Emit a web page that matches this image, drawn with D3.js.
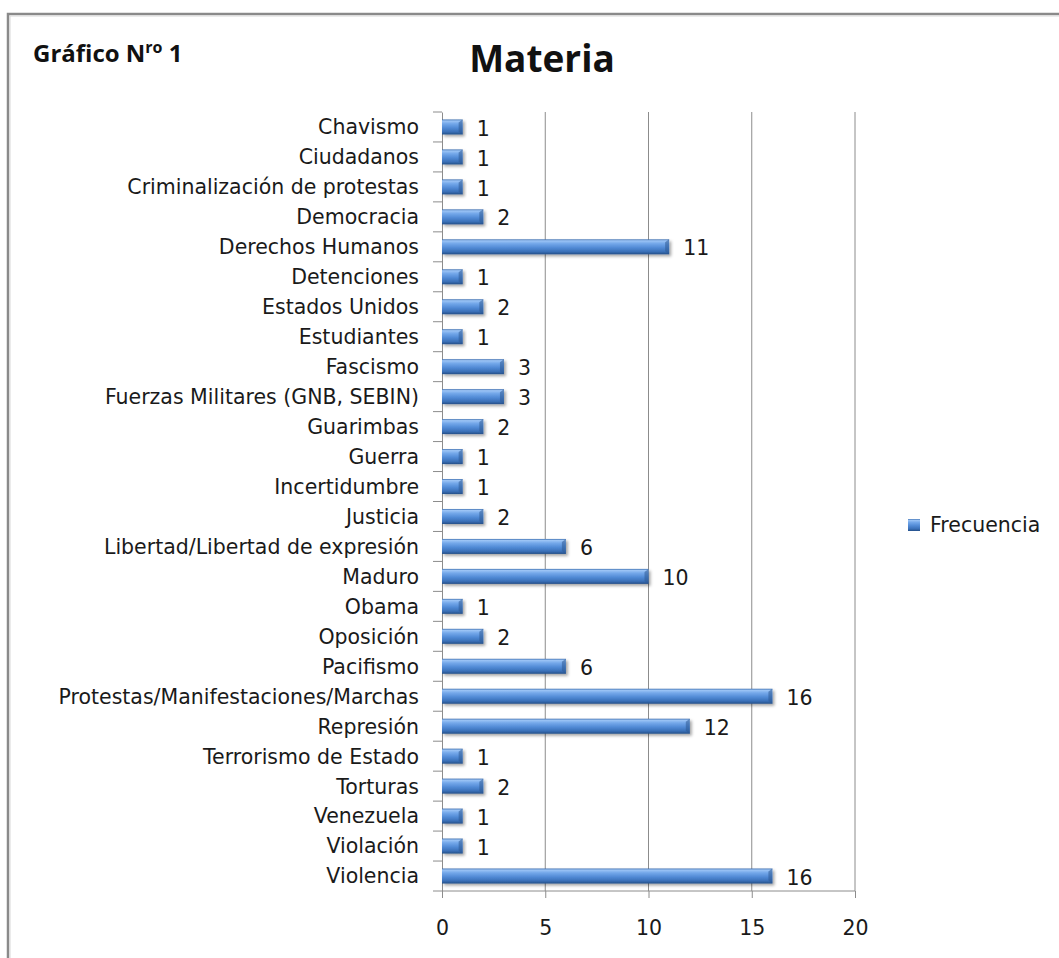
<!DOCTYPE html>
<html><head><meta charset="utf-8">
<script src="https://cdn.jsdelivr.net/npm/d3@7"></script>
<style>body{margin:0;background:#fff}svg{display:block}</style>
</head><body>
<script>
const categories = ["Chavismo","Ciudadanos","Criminalización de protestas","Democracia","Derechos Humanos","Detenciones","Estados Unidos","Estudiantes","Fascismo","Fuerzas Militares (GNB, SEBIN)","Guarimbas","Guerra","Incertidumbre","Justicia","Libertad/Libertad de expresión","Maduro","Obama","Oposición","Pacifismo","Protestas/Manifestaciones/Marchas","Represión","Terrorismo de Estado","Torturas","Venezuela","Violación","Violencia"];
const frecuencia = [1,1,1,2,11,1,2,1,3,3,2,1,1,2,6,10,1,2,6,16,12,1,2,1,1,16];
const xTicks = [0,5,10,15,20];
const seriesName = "Frecuencia";

const W = 1059, H = 958;
const svg = d3.select("body").append("svg").attr("width", W).attr("height", H);
const font = "'DejaVu Sans', Verdana, sans-serif";
const tfont = "'Open Sans', sans-serif";
const fs = 20.5;

// border
svg.append("path").attr("d", `M8,${H} L8,14 L${W},14`).attr("fill","none").attr("stroke","#8a8a8a").attr("stroke-width",2.5);
svg.append("path").attr("d", `M10,${H} L10,16 L${W},16`).attr("fill","none").attr("stroke","#d8d8d8").attr("stroke-width",1);

const defs = svg.append("defs");
const g1 = defs.append("linearGradient").attr("id","barg").attr("x1",0).attr("y1",0).attr("x2",0).attr("y2",1);
[[0,"#3d6fb0"],[0.1,"#9cc4f5"],[0.28,"#74a8ea"],[0.55,"#528bd6"],[0.82,"#3a70b8"],[1,"#244f88"]].forEach(s=>g1.append("stop").attr("offset",s[0]).attr("stop-color",s[1]));
const f = defs.append("filter").attr("id","sh").attr("x","-10%").attr("y","-30%").attr("width","130%").attr("height","180%");
f.append("feDropShadow").attr("dx",2).attr("dy",2).attr("stdDeviation",1.5).attr("flood-color","#000").attr("flood-opacity",0.35);

const x = d3.scaleLinear().domain([0,20]).range([442,855]);
const y = d3.scaleBand().domain(categories).range([112,891]);

// gridlines
svg.append("g").selectAll("line").data(xTicks.slice(1)).join("line")
  .attr("x1",d=>x(d)).attr("x2",d=>x(d)).attr("y1",112).attr("y2",891)
  .attr("stroke","#8c8c8c").attr("stroke-width",1);

// axes
const yAxis = svg.append("g").attr("transform","translate(442,0)")
  .call(d3.axisLeft(y).tickSize(0).tickPadding(23));
yAxis.select(".domain").attr("stroke","#8c8c8c");
yAxis.selectAll("text").attr("font-family",font).attr("font-size",fs).attr("fill","#1a1a1a").attr("dy","0.36em");
// category boundary ticks
svg.append("g").selectAll("line").data(d3.range(categories.length+1)).join("line")
  .attr("x1",433).attr("x2",442)
  .attr("y1",i=>112+i*y.step()).attr("y2",i=>112+i*y.step())
  .attr("stroke","#8c8c8c");

const xAxis = svg.append("g").attr("transform","translate(0,891)")
  .call(d3.axisBottom(x).tickValues(xTicks).tickSize(7).tickPadding(22));
xAxis.select(".domain").attr("stroke","#8c8c8c").attr("d",`M442,0H855`);
xAxis.selectAll("line").attr("stroke","#8c8c8c");
xAxis.selectAll("text").attr("font-family",font).attr("font-size",fs).attr("fill","#1a1a1a");

// bars
const bh = 15;
const bars = svg.append("g");
bars.selectAll("rect").data(frecuencia).join("rect")
  .attr("x",x(0)).attr("y",(d,i)=>y(categories[i])+y.bandwidth()/2-bh/2)
  .attr("width",d=>x(d)-x(0)).attr("height",bh)
  .attr("fill","url(#barg)").attr("filter","url(#sh)");
// bevel end
bars.selectAll("path").data(frecuencia).join("path")
  .attr("d",(d,i)=>{const yy=y(categories[i])+y.bandwidth()/2-bh/2, xe=x(d); return `M${xe-4},${yy+3}L${xe},${yy}L${xe},${yy+bh}L${xe-4},${yy+bh-3}Z`;})
  .attr("fill","#2d5a94").attr("opacity",0.55);

// value labels
svg.append("g").selectAll("text").data(frecuencia).join("text")
  .attr("x",d=>x(d)+14).attr("y",(d,i)=>y(categories[i])+y.bandwidth()/2)
  .attr("dy","0.42em").attr("font-family",font).attr("font-size",fs).attr("fill","#1a1a1a")
  .text(d=>d);

// titles
svg.append("text").attr("x",542).attr("y",72).attr("text-anchor","middle")
  .attr("font-family",tfont).attr("font-weight","bold").attr("font-size",37).attr("fill","#111").text("Materia");
const gt = svg.append("text").attr("x",33).attr("y",62).attr("font-family",tfont).attr("font-weight","bold").attr("font-size",24).attr("fill","#111");
gt.append("tspan").text("Gráfico N");
gt.append("tspan").attr("dy",-9).attr("font-size",16).text("ro");
gt.append("tspan").attr("dy",9).text(" 1");

// legend
svg.append("rect").attr("x",908).attr("y",519).attr("width",12).attr("height",12).attr("fill","url(#barg)");
svg.append("text").attr("x",930).attr("y",525).attr("dy","0.36em").attr("font-family",font).attr("font-size",fs).attr("fill","#1a1a1a").text(seriesName);
</script>
</body></html>
